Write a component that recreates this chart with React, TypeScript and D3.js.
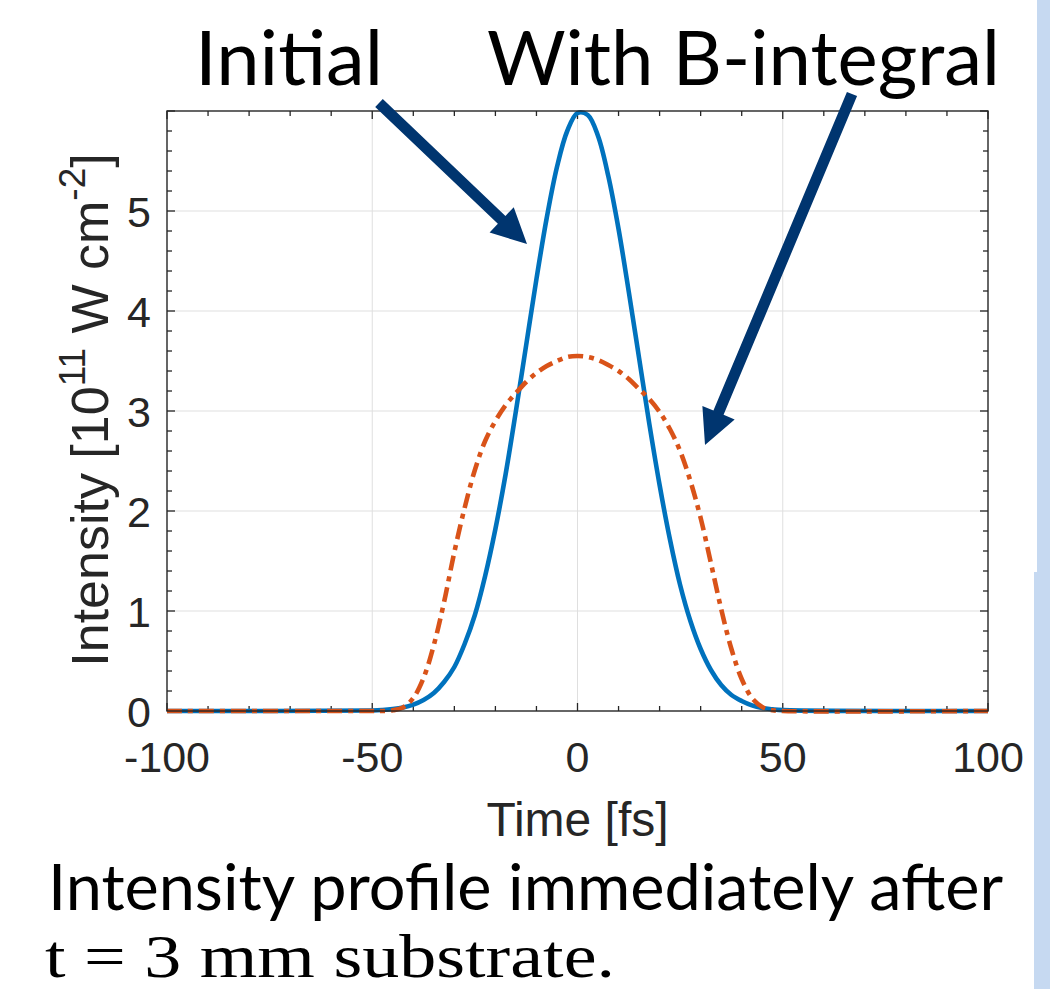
import React, { useRef, useEffect } from 'react';
import * as d3 from 'd3';

// pulse intensity vs time (10^11 W cm^-2)
const timeFs = [
  -100, -50, -47.5, -45, -42.5, -40, -37.5, -35, -32.5, -30, -27.5, -25, -22.5, -20, -17.5, -15, -12.5, -10, -7.5, -5, -2.5,
  0, 2.5, 5, 7.5, 10, 12.5, 15, 17.5, 20, 22.5, 25, 27.5, 30, 32.5, 35, 37.5, 40, 42.5, 45, 47.5, 50, 100,
];
const initialIntensity = [
  0, 0.005, 0.01, 0.02, 0.036, 0.064, 0.11, 0.18, 0.29, 0.44, 0.67, 0.96, 1.35, 1.82, 2.37, 3.0, 3.66, 4.32, 4.93, 5.44, 5.8,
  5.98, 5.96, 5.75, 5.35, 4.82, 4.19, 3.53, 2.87, 2.26, 1.72, 1.26, 0.9, 0.62, 0.41, 0.26, 0.16, 0.1, 0.056, 0.03, 0.017, 0.009, 0,
];
const bIntegralIntensity = [
  0, 0, 0, 0.007, 0.035, 0.13, 0.33, 0.66, 1.09, 1.59, 2.03, 2.41, 2.7, 2.9, 3.06, 3.18, 3.29, 3.38, 3.45, 3.5, 3.54,
  3.55, 3.54, 3.51, 3.46, 3.4, 3.32, 3.22, 3.12, 2.99, 2.82, 2.6, 2.3, 1.93, 1.48, 1.02, 0.62, 0.32, 0.13, 0.04, 0.008, 0, 0,
];
const xTickValues = [-100, -50, 0, 50, 100];
const yTickValues = [0, 1, 2, 3, 4, 5];

const AXIS_FONT = '"Liberation Sans", Arial, Helvetica, sans-serif';
const TEXT_FONT = 'Lato, "Open Sans", sans-serif';
const INK = '#262626';
const NAVY = '#00356f';

// filled block arrow from tail to tip
function arrowPoints(x1: number, y1: number, x2: number, y2: number, sw: number, hw: number, hl: number) {
  const L = Math.hypot(x2 - x1, y2 - y1);
  const ux = (x2 - x1) / L, uy = (y2 - y1) / L;
  const px = -uy, py = ux;
  const bx = x2 - ux * hl, by = y2 - uy * hl;
  const pts = [
    [x1 + px * sw / 2, y1 + py * sw / 2],
    [bx + px * sw / 2, by + py * sw / 2],
    [bx + px * hw, by + py * hw],
    [x2, y2],
    [bx - px * hw, by - py * hw],
    [bx - px * sw / 2, by - py * sw / 2],
    [x1 - px * sw / 2, y1 - py * sw / 2],
  ];
  return pts.map(p => p.join(',')).join(' ');
}

const App = () => {
  const svgRef = useRef<SVGSVGElement>(null);

  useEffect(() => {
    const svg = d3.select(svgRef.current);
    svg.selectAll('*').remove();

    const left = 167, right = 988, top = 111, bottom = 711;
    const x = d3.scaleLinear().domain([-100, 100]).range([left, right]);
    const y = d3.scaleLinear().domain([0, 6]).range([bottom, top]);

    svg.append('rect').attr('width', 1050).attr('height', 989).attr('fill', '#fff');

    // slide edge on the right
    svg.append('rect').attr('x', 1037).attr('y', 0).attr('width', 13).attr('height', 572).attr('fill', '#c6d9f1');
    svg.append('rect').attr('x', 1034).attr('y', 572).attr('width', 16).attr('height', 417).attr('fill', '#c6d9f1');

    // grid
    const grid = svg.append('g').attr('stroke', '#dfdfdf').attr('stroke-width', 1);
    xTickValues.slice(1, -1).forEach(v => {
      grid.append('line').attr('x1', x(v)).attr('x2', x(v)).attr('y1', top).attr('y2', bottom);
    });
    yTickValues.slice(1).forEach(v => {
      grid.append('line').attr('x1', left).attr('x2', right).attr('y1', y(v)).attr('y2', y(v));
    });

    // ticks (inward, on all four sides)
    const ticks = svg.append('g').attr('stroke', INK).attr('stroke-width', 1.3);
    d3.range(-100, 101, 10).forEach(v => {
      const len = v % 50 === 0 ? 8 : 5;
      ticks.append('line').attr('x1', x(v)).attr('x2', x(v)).attr('y1', bottom).attr('y2', bottom - len);
      ticks.append('line').attr('x1', x(v)).attr('x2', x(v)).attr('y1', top).attr('y2', top + len);
    });
    d3.range(0, 31).map(i => i * 0.2).forEach((v, i) => {
      const len = i % 5 === 0 ? 8 : 5;
      ticks.append('line').attr('x1', left).attr('x2', left + len).attr('y1', y(v)).attr('y2', y(v));
      ticks.append('line').attr('x1', right).attr('x2', right - len).attr('y1', y(v)).attr('y2', y(v));
    });

    // curves
    const line = d3.line<number>()
      .x((d, i) => x(timeFs[i]))
      .y(d => y(d))
      .curve(d3.curveCatmullRom.alpha(0.5));

    svg.append('path')
      .attr('d', line(initialIntensity))
      .attr('fill', 'none')
      .attr('stroke', '#0072bd')
      .attr('stroke-width', 4.6);

    svg.append('path')
      .attr('d', line(bIntegralIntensity))
      .attr('fill', 'none')
      .attr('stroke', '#d95319')
      .attr('stroke-width', 4.6)
      .attr('stroke-dasharray', '15 6 5 6');

    // box
    svg.append('rect')
      .attr('x', left).attr('y', top)
      .attr('width', right - left).attr('height', bottom - top)
      .attr('fill', 'none').attr('stroke', INK).attr('stroke-width', 1.4);

    // tick labels
    svg.append('g').selectAll('text').data(xTickValues).enter().append('text')
      .attr('x', d => x(d)).attr('y', 772)
      .attr('text-anchor', 'middle')
      .attr('font-family', AXIS_FONT).attr('font-size', 43).attr('fill', INK)
      .text(d => String(d));

    svg.append('g').selectAll('text').data(yTickValues).enter().append('text')
      .attr('x', 151).attr('y', d => y(d) + 15.5)
      .attr('text-anchor', 'end')
      .attr('font-family', AXIS_FONT).attr('font-size', 43).attr('fill', INK)
      .text(d => String(d));

    // axis labels
    svg.append('text')
      .attr('x', x(0)).attr('y', 836)
      .attr('text-anchor', 'middle')
      .attr('font-family', AXIS_FONT).attr('font-size', 48).attr('fill', INK)
      .text('Time [fs]');

    const yl = svg.append('text')
      .attr('transform', `translate(108, ${y(3) - 1}) rotate(-90)`)
      .attr('text-anchor', 'middle')
      .attr('font-family', AXIS_FONT).attr('font-size', 52).attr('fill', INK);
    yl.append('tspan').text('Intensity [10');
    yl.append('tspan').attr('font-size', 37).attr('dy', -23).text('11');
    yl.append('tspan').attr('dy', 23).text(' W cm');
    yl.append('tspan').attr('font-size', 37).attr('dy', -23).text('-2');
    yl.append('tspan').attr('dy', 23).text(']');

    // annotations
    svg.append('text')
      .attr('x', 195).attr('y', 85)
      .attr('font-family', TEXT_FONT).attr('font-size', 75).attr('fill', '#000')
      .attr('textLength', 188).attr('lengthAdjust', 'spacingAndGlyphs')
      .text('Initial');
    svg.append('text')
      .attr('x', 487).attr('y', 85)
      .attr('font-family', TEXT_FONT).attr('font-size', 75).attr('fill', '#000')
      .attr('textLength', 513).attr('lengthAdjust', 'spacingAndGlyphs')
      .text('With B-integral');

    svg.append('polygon').attr('points', arrowPoints(379, 103, 527, 244, 11, 17.5, 35)).attr('fill', NAVY);
    svg.append('polygon').attr('points', arrowPoints(852, 94, 705, 445, 11, 17.5, 35)).attr('fill', NAVY);

    // caption
    svg.append('text')
      .attr('x', 48).attr('y', 910)
      .attr('font-family', TEXT_FONT).attr('font-size', 64).attr('fill', '#000')
      .attr('textLength', 955).attr('lengthAdjust', 'spacingAndGlyphs')
      .text('Intensity profile immediately after');
    svg.append('text')
      .attr('x', 45).attr('y', 977)
      .attr('font-family', '"Liberation Serif", "DejaVu Serif", serif').attr('font-size', 62).attr('fill', '#000')
      .attr('textLength', 570).attr('lengthAdjust', 'spacingAndGlyphs')
      .text('t = 3 mm substrate.');
  }, []);

  return (
    <div style={{ position: 'absolute', left: 0, top: 0 }}>
      <svg ref={svgRef} width={1050} height={989} style={{ display: 'block' }}></svg>
    </div>
  );
};

export default App;
